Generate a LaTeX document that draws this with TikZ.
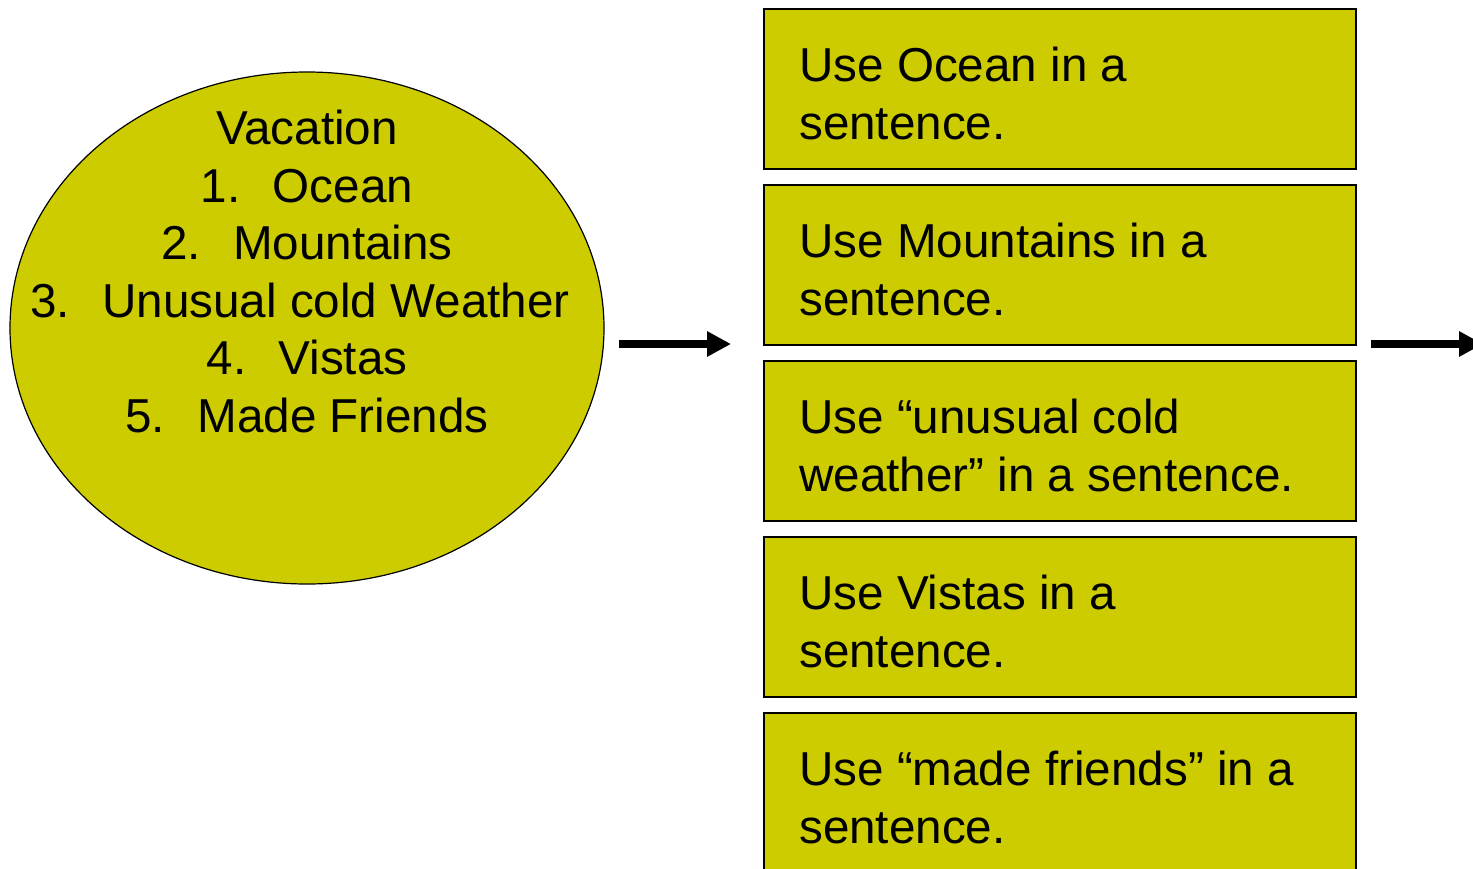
\documentclass[tikz,border=0pt]{standalone}
\usepackage{fontspec}
\setmainfont{Liberation Sans}
\usetikzlibrary{shapes.geometric,arrows.meta}
\definecolor{olive}{HTML}{CCCC00}
\tikzset{
  wordbox/.style={draw=black, line width=2pt, fill=olive, rectangle, minimum width=592pt, minimum height=160pt, inner sep=0pt, anchor=north west},
  boxtext/.style={anchor=base west, inner sep=0pt, align=left, font=\fontsize{47.6}{58}\selectfont},
  ovaltext/.style={anchor=base, inner sep=0pt, font=\fontsize{47.6}{57.6}\selectfont},
  bigarrow/.style={line width=8.5pt, -{Triangle[length=24pt,width=24pt]}},
}
\newcommand{\numitem}[2]{\makebox[72pt][l]{#1}#2}
\begin{document}
\begin{tikzpicture}[x=1pt,y=-1pt]
\useasboundingbox (0,0) rectangle (1473,868);
% ellipse
\node[ellipse, draw=black, line width=1.2pt, fill=olive, minimum width=594pt, minimum height=512pt, inner sep=0pt] (oval) at (307,328) {};
\node[ovaltext] (v0) at (307,144) {Vacation};
\node[ovaltext] (v1) at (307,202) {\numitem{1.}{Ocean}};
\node[ovaltext] (v2) at (307,259) {\numitem{2.}{Mountains}};
\node[ovaltext] (v3) at (300,317) {\numitem{3.}{Unusual cold Weather}};
\node[ovaltext] (v4) at (307,374) {\numitem{4.}{Vistas}};
\node[ovaltext] (v5) at (307,432) {\numitem{5.}{Made Friends}};
% boxes
\node[wordbox] (b1) at (763,8) {};
\node[wordbox] (b2) at (763,184) {};
\node[wordbox] (b3) at (763,360) {};
\node[wordbox] (b4) at (763,536) {};
\node[wordbox] (b5) at (763,712) {};
\node[boxtext] (t1) at (799,139) {Use Ocean in a\\sentence.};
\node[boxtext] (t2) at (799,315) {Use Mountains in a\\sentence.};
\node[boxtext] (t3) at (799,491) {Use “unusual cold\\weather” in a sentence.};
\node[boxtext] (t4) at (799,667) {Use Vistas in a\\sentence.};
\node[boxtext] (t5) at (799,843) {Use “made friends” in a\\sentence.};
% arrows
\coordinate (a1s) at (619,344);
\coordinate (a1e) at (731,344);
\coordinate (a2s) at (1371,344);
\coordinate (a2e) at (1483,344);
\draw[bigarrow] (a1s) -- (a1e);
\draw[bigarrow] (a2s) -- (a2e);
\end{tikzpicture}
\end{document}
